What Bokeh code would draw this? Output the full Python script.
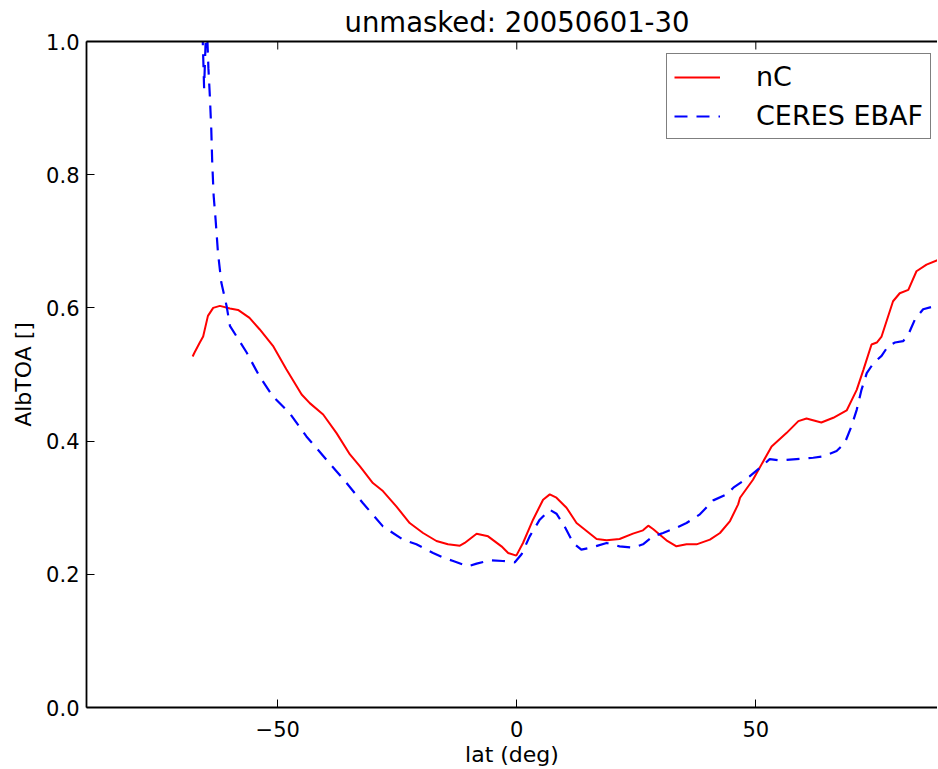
import math
from bokeh.plotting import figure
from bokeh.models import LinearAxis, FixedTicker, PrintfTickFormatter, Range1d
from bokeh.embed import file_html
from bokeh.resources import INLINE

# ---- data ----
lat_nc = [-67.8, -67.4, -66.3, -65.6, -64.6, -63.5, -62.1, -60.0, -58.3, -55.9,
          -53.8, -51.0, -48.2, -45.0, -43.3, -40.5, -37.7, -34.9, -32.8, -30.1,
          -28.0, -25.2, -22.4, -19.6, -16.8, -14.4, -11.9, -10.9, -8.4, -6.0,
          -3.2, -1.8, -0.1, 1.3, 3.4, 5.5, 6.9, 8.3, 10.4, 12.5,
          14.6, 16.7, 18.8, 21.5, 24.3, 26.4, 27.5, 28.5, 31.3, 33.4,
          35.5, 37.6, 40.4, 42.5, 44.6, 46.3, 46.7, 49.4, 53.3, 56.4,
          58.9, 60.6, 63.7, 66.2, 69.0, 71.1, 72.5, 74.2, 75.3, 76.3,
          78.7, 80.1, 81.9, 83.6, 85.7, 88.1, 89.5]
alb_nc = [0.527, 0.533, 0.548, 0.557, 0.588, 0.600, 0.603, 0.599, 0.597, 0.585,
          0.568, 0.543, 0.508, 0.470, 0.457, 0.440, 0.412, 0.380, 0.362, 0.337,
          0.325, 0.302, 0.277, 0.262, 0.250, 0.245, 0.243, 0.247, 0.261, 0.257,
          0.242, 0.232, 0.228, 0.247, 0.282, 0.312, 0.320, 0.315, 0.300, 0.277,
          0.265, 0.253, 0.251, 0.253, 0.261, 0.266, 0.273, 0.268, 0.251, 0.242,
          0.245, 0.245, 0.252, 0.262, 0.280, 0.305, 0.315, 0.342, 0.392, 0.412,
          0.430, 0.434, 0.428, 0.435, 0.446, 0.477, 0.507, 0.545, 0.548, 0.557,
          0.610, 0.622, 0.627, 0.655, 0.665, 0.672, 0.675]

lat_ceres = [-66.0, -65.4, -64.9, -64.5, -64.2, -63.9, -63.7, -63.4, -63.0, -62.5,
             -61.8, -60.7, -60.0, -56.5, -53.8, -51.0, -47.5, -44.0, -39.8, -35.6,
             -32.2, -28.0, -23.8, -21.0, -17.5, -15.4, -13.3, -10.2, -8.4, -5.6,
             -2.9, -0.4, 1.0, 2.7, 4.8, 6.9, 8.3, 10.0, 11.8, 13.5,
             16.0, 18.8, 21.5, 24.3, 26.4, 28.5, 30.6, 33.4, 35.5, 38.3,
             41.1, 43.9, 45.3, 48.7, 51.2, 52.9, 55.0, 58.5, 62.0, 64.1,
             66.9, 68.6, 70.0, 71.1, 72.1, 73.2, 74.6, 76.3, 77.7, 79.1,
             80.8, 81.9, 83.3, 85.0, 88.1, 89.5]
alb_ceres = [1.08, 0.93, 1.04, 0.96, 0.918, 0.868, 0.818, 0.768, 0.733, 0.683,
             0.638, 0.603, 0.573, 0.533, 0.497, 0.467, 0.442, 0.407, 0.372, 0.337,
             0.307, 0.272, 0.252, 0.245, 0.232, 0.225, 0.220, 0.212, 0.216, 0.221,
             0.220, 0.218, 0.230, 0.257, 0.282, 0.297, 0.291, 0.272, 0.247, 0.237,
             0.241, 0.247, 0.242, 0.240, 0.245, 0.257, 0.262, 0.270, 0.277, 0.290,
             0.311, 0.320, 0.330, 0.347, 0.362, 0.373, 0.371, 0.373, 0.375, 0.377,
             0.385, 0.397, 0.422, 0.447, 0.477, 0.502, 0.517, 0.528, 0.543, 0.548,
             0.550, 0.560, 0.583, 0.598, 0.604, 0.606]

x_ticks = [-50, 0, 50]
y_ticks = [0.0, 0.2, 0.4, 0.6, 0.8, 1.0]
title_text = "unmasked: 20050601-30"
x_label = "lat (deg)"
y_label = "AlbTOA []"

FONT = "DejaVu Sans"
Y_MIN, Y_MAX = 0.0, 1.0

p = figure(frame_width=851, frame_height=666,
           x_range=Range1d(-90, 88.0), y_range=Range1d(Y_MIN, Y_MAX),
           output_backend="svg", toolbar_location=None,
           min_border_left=86, min_border_right=0, min_border_top=41, min_border_bottom=59,
           x_axis_type=None, y_axis_type=None)
p.outline_line_color = None
p.background_fill_color = "white"
p.border_fill_color = "white"

# title
p.title.text = title_text
p.title.text_font = FONT
p.title.text_font_size = "27.5px"
p.title.text_font_style = "normal"
p.title.text_color = "black"
p.title.align = "left"
p.title.offset = 258
p.title.standoff = 7

AX_W = 1.8

def style_axis(ax):
    ax.axis_line_color = "black"
    ax.axis_line_width = AX_W
    ax.major_tick_in = 8
    ax.major_tick_out = 0
    ax.major_tick_line_color = "black"
    ax.major_tick_line_width = 1
    ax.minor_tick_line_color = None
    ax.major_label_text_font = FONT
    ax.major_label_text_font_size = "21px"
    ax.major_label_text_color = "black"
    ax.axis_label_text_font = FONT
    ax.axis_label_text_font_size = "22px"
    ax.axis_label_text_font_style = "normal"
    ax.axis_label_text_color = "black"

xaxis = LinearAxis(ticker=FixedTicker(ticks=x_ticks), axis_label=x_label,
                   major_label_overrides={-50: "\u221250"})
style_axis(xaxis)
xaxis.major_label_standoff = 13
xaxis.axis_label_standoff = 2
p.add_layout(xaxis, "below")

yaxis = LinearAxis(ticker=FixedTicker(ticks=y_ticks), axis_label=y_label,
                   formatter=PrintfTickFormatter(format="%.1f"))
style_axis(yaxis)
yaxis.major_label_standoff = 7
yaxis.axis_label_standoff = 7
p.add_layout(yaxis, "left")

# top spine: axis line only (no ticks/labels), tick marks drawn as short rays
top = LinearAxis(ticker=FixedTicker(ticks=[]))
style_axis(top)
top.major_label_standoff = 0
p.add_layout(top, "above")
p.ray(x=x_ticks, y=[Y_MAX] * len(x_ticks), length=8, length_units="screen",
      angle=-math.pi / 2, line_color="black", line_width=1)

p.xgrid.visible = False
p.ygrid.visible = False

p.line(lat_nc, alb_nc, line_color="#ff0000", line_width=2, legend_label="nC")
p.line(lat_ceres, alb_ceres, line_color="#0000ff", line_width=2.2, line_dash="13 9",
       legend_label="CERES EBAF")

lg = p.legend[0]
lg.location = (580, 568)
lg.padding = 7
lg.spacing = 8
lg.glyph_width = 46
lg.glyph_height = 28
lg.label_height = 28
lg.label_standoff = 36
lg.label_text_font = FONT
lg.label_text_font_size = "27px"
lg.label_text_color = "black"
lg.border_line_color = "black"
lg.border_line_width = 1.2
lg.background_fill_color = "white"
lg.background_fill_alpha = 1.0

open("out.html", "w").write(file_html(p, INLINE))
